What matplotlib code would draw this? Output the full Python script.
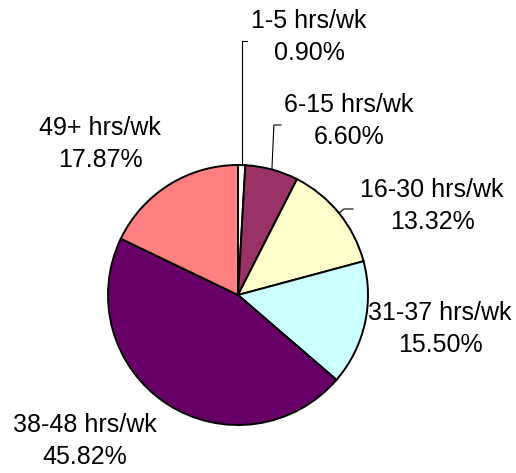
import numpy as np
import matplotlib
matplotlib.use("Agg")
import matplotlib.pyplot as plt

# data
categories = ['1-5 hrs/wk', '6-15 hrs/wk', '16-30 hrs/wk', '31-37 hrs/wk', '38-48 hrs/wk', '49+ hrs/wk']
shares = [0.90, 6.60, 13.32, 15.50, 45.82, 17.87]

colors = ['#FFFFFF', '#993366', '#FFFFCC', '#CCFFFF', '#660066', '#FF8080']

W, H = 516, 473
fig = plt.figure(figsize=(W / 100, H / 100), dpi=100)
ax = fig.add_axes([0, 0, 1, 1])

cx, cy, r = 238, H - 295, 130
wedges, _ = ax.pie(shares, colors=colors, startangle=90, counterclock=False,
                   center=(cx, cy), radius=r, frame=True,
                   wedgeprops=dict(edgecolor='black', linewidth=1.4))
ax.set_xlim(0, W)
ax.set_ylim(0, H)
ax.set_aspect('equal')
ax.axis('off')

# label block centres (pixels from top-left)
label_pos = [(309, 37), (349, 121), (432, 206), (440, 329), (85, 441), (100, 144)]
for cat, val, (lx, ly) in zip(categories, shares, label_pos):
    ax.text(lx, H - ly, f"{cat}\n{val:.2f}%", ha='center', va='center',
            multialignment='center', fontsize=18, family='Liberation Sans',
            linespacing=1.45)

# leader lines for the small slices
def edge_point(i):
    w = wedges[i]
    ang = np.deg2rad((w.theta1 + w.theta2) / 2)
    return cx + r * np.cos(ang), cy + r * np.sin(ang)

x0, y0 = edge_point(0)
ax.plot([x0, x0, 247], [y0, H - 41, H - 41], color='black', lw=0.8)
x1, y1 = edge_point(1)
ax.plot([x1, x1 + 2, 281], [y1, H - 125, H - 125], color='black', lw=0.8)
x2, y2 = edge_point(2)
ax.plot([x2, x2 + 5, 353], [y2, H - 209, H - 209], color='black', lw=0.8)

fig.savefig('out.png', dpi=100)
